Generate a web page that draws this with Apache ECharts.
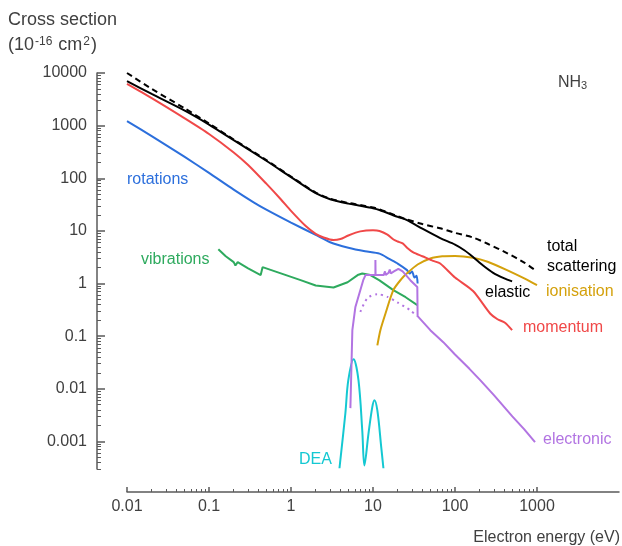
<!DOCTYPE html>
<html><head><meta charset="utf-8">
<script src="https://cdn.jsdelivr.net/npm/echarts@6/dist/echarts.min.js"></script>
<style>html,body{margin:0;padding:0;background:#fff}#c{width:622px;height:546px}</style>
</head><body><div id="c"></div>
<script>
// ---- tick values / labels ----
const xTickValues = [0.01, 0.1, 1, 10, 100, 1000];
const xTickLabels = ['0.01', '0.1', '1', '10', '100', '1000'];
const yTickValues = [0.001, 0.01, 0.1, 1, 10, 100, 1000, 10000];
const yTickLabels = ['0.001', '0.01', '0.1', '1', '10', '100', '1000', '10000'];

// ---- series data: [energy (eV), cross section (1e-16 cm2)] ----
const totalScattering = [[0.01,10000],[0.02,5000],[0.05,2150],[0.1,1100],[0.2,545],[0.5,222],[1,108],[2,53.5],[3,41],[5,34],[7,31],[10,27.8],[12,25.8],[20,19],[26,16.5],[40,13.5],[66,11.2],[100,9.2],[166,7.5],[250,5.7],[430,3.8],[700,2.5],[950,1.8]];
const elastic = [[0.01,7000],[0.02,4000],[0.05,1950],[0.1,1050],[0.2,530],[0.5,215],[1,105],[2,52],[3,40],[5,33],[7,30],[10,27],[12,25],[20,18.5],[26,16],[40,11],[66,7.3],[100,5.5],[130,4.3],[166,3.2],[220,2.2],[292,1.6],[400,1.25],[497,1.1]];
const momentum = [[0.01,6200],[0.02,3330],[0.05,1390],[0.1,695],[0.2,310],[0.3,179],[0.5,79],[0.75,40],[1,24],[1.5,12.5],[2,8.8],[2.5,7.5],[3.3,6.7],[4,7.0],[5,8.2],[7,9.8],[10,10.3],[12,10],[15,8.5],[18,6.8],[20,6.3],[23,5.8],[26,4.8],[31,3.9],[40,3.3],[54,2.7],[66,2.4],[100,1.3],[166,0.72],[268,0.27],[330,0.21],[407,0.18],[497,0.13]];
const rotations = [[0.01,1220],[0.02,631],[0.05,257],[0.1,127],[0.2,61],[0.35,35],[0.5,25.4],[1,14.4],[2,8.4],[3,6.1],[5,4.8],[8,4.1],[12,3.7],[16,2.9],[20,2.4],[26,1.8],[28,1.55],[30,1.7],[32,1.3],[34,1.4],[35,1.0]];
const vibrations = [[0.13,4.5],[0.16,3.3],[0.2,2.55],[0.21,2.2],[0.224,2.55],[0.3,1.95],[0.427,1.45],[0.45,2.05],[1.31,1.16],[2,0.92],[3.3,0.84],[4.9,1.06],[6.5,1.45],[7.4,1.55],[9.3,1.45],[12,1.15],[17.7,0.75],[25,0.55],[34.7,0.39]];
const electronic = [[5.3,0.0043],[5.6,0.13],[6.1,0.36],[7.6,1.16],[8.1,1.45],[10.7,1.45],[10.7,2.8],[10.75,1.45],[13.5,1.45],[14,1.7],[14.3,1.45],[15.5,1.6],[16,1.85],[16.5,1.55],[18,1.7],[20.4,1.9],[23,1.7],[28.5,1.16],[34.7,0.86],[35,0.24],[50,0.13],[72,0.077],[100,0.045],[150,0.024],[203,0.0146],[300,0.0075],[500,0.003],[700,0.0017],[946,0.00097]];
const electronicDotted = [[7.0,0.29],[8.55,0.53],[11.3,0.63],[15,0.56],[19.8,0.44],[28.5,0.31],[34.7,0.24]];
const ionisation = [[11.3,0.067],[12.3,0.13],[14.2,0.27],[17.7,0.75],[22,1.2],[26.2,1.58],[35,2.3],[50,3.0],[70,3.3],[100,3.35],[166,3.1],[250,2.6],[431,1.8],[700,1.25],[1000,0.93]];
const dea = [[3.9,0.00031],[4.6,0.0034],[5.0,0.0146],[5.8,0.0366],[6.65,0.0146],[7.4,0.0016],[7.85,0.00035],[8.8,0.0014],[9.8,0.0045],[10.4,0.0061],[11.3,0.0039],[12.6,0.00078],[13.4,0.00031]];

// ---- styling ----
const FONT = '"Liberation Sans", Arial, sans-serif';
const AXIS_COLOR = '#5a5a5a';
const TEXT_COLOR = '#404040';
const C = {black:'#000000', red:'#f04848', blue:'#2c6fdc', green:'#2eaa5e', purple:'#b274e2', gold:'#d4a10c', cyan:'#14c8d2'};

function minorValues(decades, lo, hi) {
  const out = [];
  decades.forEach(d => { for (let k = 2; k <= 9; k++) { const v = +(d * k).toPrecision(3); if (v >= lo && v <= hi) out.push(v); } });
  return out;
}
const xMinor = minorValues([0.01, 0.1, 1, 10, 100], 0.01, 1000);
const yMinor = minorValues([0.0001, 0.001, 0.01, 0.1, 1, 10, 100, 1000], 0.0003, 10000);

function fmt(values, labels) {
  return function (v) {
    for (let i = 0; i < values.length; i++) {
      if (Math.abs(Math.log10(v) - Math.log10(values[i])) < 1e-6) return labels[i];
    }
    for (let i = 0; i < values.length; i++) {
      if (Math.abs(v - Math.log10(values[i])) < 1e-6) return labels[i];
    }
    return '';
  };
}

function line(data, color, opts) {
  return Object.assign({
    type: 'line', data: data, showSymbol: false, symbol: 'none', xAxisIndex: 0, yAxisIndex: 0,
    lineStyle: {color: color, width: 2}, itemStyle: {color: color}, animation: false, silent: true,
    smooth: 0.25
  }, opts || {});
}

function txt(text, x, y, color, extra) {
  return {
    type: 'text', x: x, y: y, silent: true,
    style: Object.assign({text: text, fill: color, fontSize: 16, fontFamily: FONT,
      textAlign: 'left', align: 'left', textVerticalAlign: 'middle', verticalAlign: 'middle'}, extra || {})
  };
}

const chart = echarts.init(document.getElementById('c'), null, {renderer: 'canvas'});
const xBase = {type: 'log', min: 0.01, max: 10000, position: 'bottom', offset: 23, splitLine: {show: false}, minorTick: {show: false}, minorSplitLine: {show: false}};
const yBase = {type: 'log', min: 0.0003, max: 10000, position: 'left', offset: 30, splitLine: {show: false}, minorTick: {show: false}, minorSplitLine: {show: false}};

chart.setOption({
  animation: false,
  backgroundColor: '#ffffff',
  grid: {left: 127, right: 3, top: 73, bottom: 77, containLabel: false, outerBoundsMode: 'none'},
  xAxis: [
    Object.assign({}, xBase, {
      axisLine: {show: true, lineStyle: {color: AXIS_COLOR, width: 1.5}},
      axisTick: {show: true, inside: true, length: 5, customValues: xTickValues, lineStyle: {color: AXIS_COLOR, width: 1.5}},
      axisLabel: {show: true, customValues: xTickValues, formatter: fmt(xTickValues, xTickLabels), margin: 7, color: TEXT_COLOR, fontSize: 16, fontFamily: FONT}
    }),
    Object.assign({}, xBase, {
      axisLine: {show: false},
      axisTick: {show: true, inside: true, length: 3, customValues: xMinor, lineStyle: {color: AXIS_COLOR, width: 1}},
      axisLabel: {show: false}
    })
  ],
  yAxis: [
    Object.assign({}, yBase, {
      axisLine: {show: true, lineStyle: {color: AXIS_COLOR, width: 1.5}},
      axisTick: {show: true, inside: true, length: 8, customValues: yTickValues, lineStyle: {color: AXIS_COLOR, width: 1.5}},
      axisLabel: {show: true, customValues: yTickValues, formatter: fmt(yTickValues, yTickLabels), margin: 10, color: TEXT_COLOR, fontSize: 16, fontFamily: FONT}
    }),
    Object.assign({}, yBase, {
      axisLine: {show: false},
      axisTick: {show: true, inside: true, length: 4, customValues: yMinor, lineStyle: {color: AXIS_COLOR, width: 1}},
      axisLabel: {show: false}
    })
  ],
  series: [
    line(rotations, C.blue),
    line(vibrations, C.green, {smooth: false}),
    line(dea, C.cyan, {smooth: 0.35}),
    line(ionisation, C.gold),
    line(electronicDotted, C.purple, {lineStyle: {color: C.purple, width: 2, type: [2, 4]}}),
    line(electronic, C.purple, {smooth: false}),
    line(momentum, C.red),
    line(elastic, C.black),
    line(totalScattering, C.black, {lineStyle: {color: C.black, width: 2, type: [6, 4]}})
  ],
  graphic: {elements: [
    txt('Cross section', 8, 20, TEXT_COLOR, {fontSize: 18}),
    txt('(10{sup|-16} cm{sup|2})', 8, 45, TEXT_COLOR, {fontSize: 18, rich: {sup: {fontSize: 12, fontFamily: FONT, fill: TEXT_COLOR, verticalAlign: 'top', padding: [0, 1, 0, 1]}}}),
    txt('NH{sub|3}', 558, 83, TEXT_COLOR, {rich: {sub: {fontSize: 11, fontFamily: FONT, fill: TEXT_COLOR, verticalAlign: 'bottom'}}}),
    txt('rotations', 127, 180, C.blue),
    txt('vibrations', 141, 260, C.green),
    txt('total', 547, 247, C.black),
    txt('scattering', 547, 267, C.black),
    txt('elastic', 485, 293, C.black),
    txt('ionisation', 546, 292, C.gold),
    txt('momentum', 523, 328, C.red),
    txt('electronic', 543, 440, C.purple),
    txt('DEA', 299, 460, C.cyan),
    txt('Electron energy (eV)', 620, 538, TEXT_COLOR, {textAlign: 'right', align: 'right'})
  ]}
});
</script></body></html>
